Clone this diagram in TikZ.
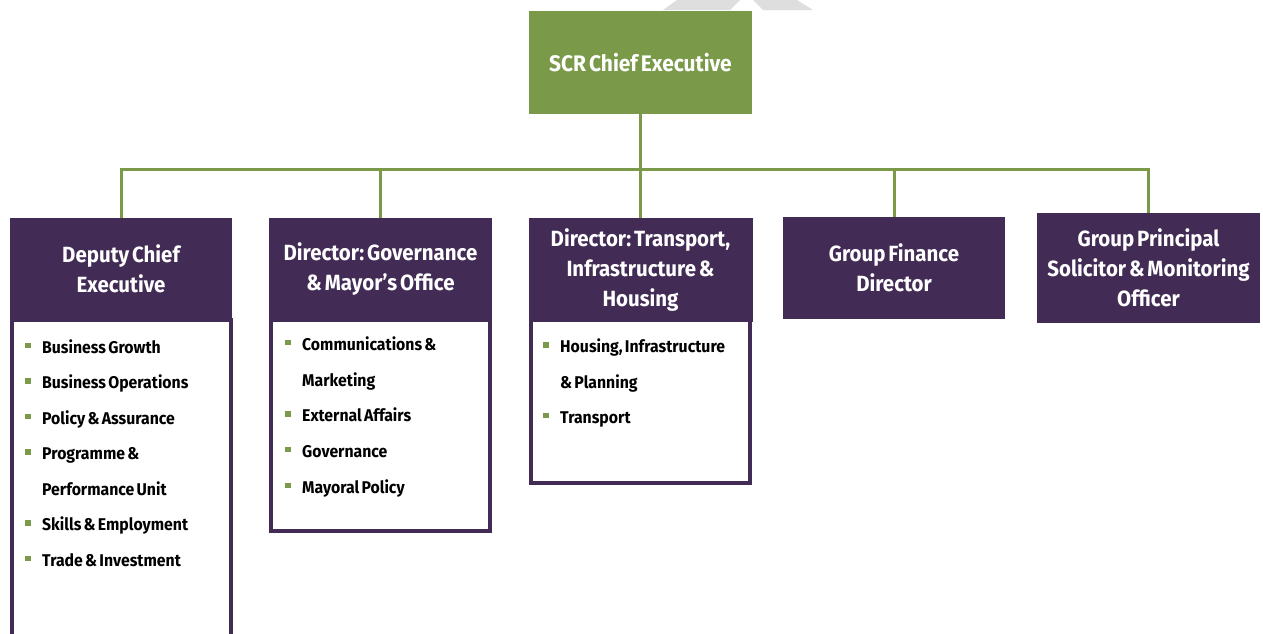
\documentclass[tikz,border=0pt]{standalone}
\usepackage{fontspec}
\setmainfont{Fira Sans}[FakeStretch=0.93,WordSpace=0.6]
\frenchspacing
\definecolor{scrgreen}{HTML}{7A9A4A}
\definecolor{scrpurple}{HTML}{422B55}
\definecolor{wmgrey}{HTML}{DEDEDE}
\newcommand{\bul}{\makebox[17pt][l]{\textcolor{scrgreen}{\rule[5pt]{5.5pt}{5.5pt}}}}
\newcommand{\nob}{\hspace*{17pt}}
\tikzset{
  head/.style={rectangle, fill=scrpurple, text=white, inner sep=0pt, align=center,
    font=\bfseries\fontsize{22pt}{30pt}\selectfont},
  bodybox/.style={draw=scrpurple, line width=4pt, fill=white},
  item/.style={anchor=base west, inner sep=0pt, text=black, font=\bfseries\fontsize{17pt}{20pt}\selectfont},
  link/.style={draw=scrgreen, line width=3pt},
}
\begin{document}
\begin{tikzpicture}[x=1pt,y=-1pt]
\useasboundingbox (0,0) rectangle (1263,633);
\clip (0,0) rectangle (1263,633);
\fill[white] (0,0) rectangle (1263,633);
% watermark fragment
\fill[wmgrey] (663,10) -- (677,0) -- (740,0) -- (730,10) -- cycle;
\fill[wmgrey] (753,0) -- (797,0) -- (813,10) -- (763,10) -- cycle;
% top box
\node[rectangle, fill=scrgreen, text=white, inner sep=0pt, minimum width=223pt, minimum height=103pt,
  font=\bfseries\fontsize{22.5pt}{26pt}\selectfont] (ceo) at (640.5,62.5) {SCR Chief Executive};
% bodies
\draw[bodybox] (11.5,320) rectangle (230.5,660);
\draw[bodybox] (271,320) rectangle (490,530.5);
\draw[bodybox] (531,320) rectangle (750,482.5);
% headers
\node[head, minimum width=222pt, minimum height=102pt] (h1) at (121,269) {Deputy Chief\\Executive};
\node[head, minimum width=223pt, minimum height=102pt] (h2) at (380.5,269) {Director: Governance\\\& Mayor's Office};
\node[head, minimum width=224pt, minimum height=104pt] (h3) at (640.5,270) {Director: Transport,\\Infrastructure \&\\Housing};
\node[head, minimum width=222pt, minimum height=102pt] (h4) at (894,268) {Group Finance\\Director};
\node[head, minimum width=223pt, minimum height=110pt] (h5) at (1148.5,268) {Group Principal\\Solicitor \& Monitoring\\Officer};
% connectors
\coordinate (bus) at (640.5,169);
\draw[link] (ceo.south) -- (h3.north);
\draw[link] (h1.north) |- (bus) -| (h5.north);
\draw[link] (h2.north) -- (h2.north |- bus);
\draw[link] (h4.north) -- (h4.north |- bus);
% items box 1
\node[item] (a1) at (25,353) {\bul Business Growth};
\node[item] (a2) at (25,388.5) {\bul Business Operations};
\node[item] (a3) at (25,424) {\bul Policy \& Assurance};
\node[item] (a4) at (25,459.5) {\bul Programme \&};
\node[item] (a5) at (25,495) {\nob Performance Unit};
\node[item] (a6) at (25,530.5) {\bul Skills \& Employment};
\node[item] (a7) at (25,566) {\bul Trade \& Investment};
% items box 2
\node[item] (b1) at (285,350) {\bul Communications \&};
\node[item] (b2) at (285,386) {\nob Marketing};
\node[item] (b3) at (285,421.5) {\bul External Affairs};
\node[item] (b4) at (285,457) {\bul Governance};
\node[item] (b5) at (285,493) {\bul Mayoral Policy};
% items box 3
\node[item] (c1) at (543,352.5) {\bul Housing, Infrastructure};
\node[item] (c2) at (543,388) {\nob \& Planning};
\node[item] (c3) at (543,423) {\bul Transport};
\end{tikzpicture}
\end{document}
